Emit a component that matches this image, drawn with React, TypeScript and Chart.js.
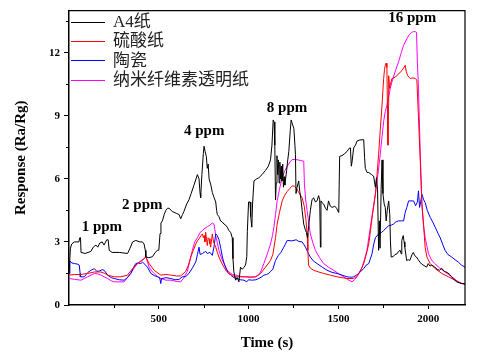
import React, { useEffect, useRef } from "react";
import { Chart, registerables } from "chart.js";

Chart.register(...registerables);

// ---------------- data ----------------
const seriesLabels = ["A4纸", "硫酸纸", "陶瓷", "纳米纤维素透明纸"];

const a4Time = [0, 8, 15, 30, 55, 60, 64, 67, 90, 122, 135, 150, 160, 172, 185, 195, 210, 218, 224, 240, 280, 326, 340, 354, 372, 395, 409, 418, 425, 428, 445, 465, 480, 493, 500, 507, 512, 520, 530, 539, 548, 557, 575, 600, 613, 622, 632, 640, 655, 668, 680, 696, 715, 724, 730, 733, 740, 748, 752, 758, 765, 770, 775, 780, 790, 798, 808, 817, 822, 826, 835, 844, 853, 863, 872, 881, 890, 900, 909, 913, 918, 928, 937, 946, 955, 965, 975, 983, 990, 993, 1000, 1008, 1012, 1018, 1022, 1030, 1045, 1057, 1075, 1094, 1110, 1122, 1130, 1137, 1142, 1146, 1150, 1154, 1158, 1162, 1166, 1170, 1174, 1178, 1182, 1186, 1190, 1194, 1198, 1202, 1206, 1212, 1218, 1224, 1232, 1237, 1244, 1252, 1258, 1261, 1264, 1270, 1279, 1285, 1292, 1298, 1307, 1315, 1322, 1328, 1335, 1344, 1353, 1362, 1372, 1381, 1390, 1396, 1400, 1403, 1410, 1418, 1428, 1437, 1445, 1455, 1465, 1480, 1490, 1502, 1507, 1520, 1535, 1548, 1560, 1567, 1572, 1576, 1585, 1595, 1604, 1620, 1641, 1646, 1650, 1660, 1669, 1685, 1696, 1706, 1712, 1718, 1724, 1728, 1732, 1738, 1743, 1748, 1755, 1761, 1766, 1772, 1780, 1786, 1790, 1794, 1805, 1815, 1826, 1835, 1844, 1850, 1853, 1861, 1866, 1870, 1880, 1890, 1898, 1910, 1917, 1925, 1935, 1945, 1954, 1963, 1972, 1982, 1991, 2000, 2010, 2020, 2037, 2050, 2063, 2075, 2090, 2105, 2120, 2131, 2145, 2159, 2175, 2187, 2205];
const a4Resp = [1.5, 2.7, 2.9, 3.0, 3.0, 3.2, 3.2, 2.5, 2.45, 2.55, 2.75, 2.85, 2.75, 2.95, 3.0, 2.85, 3.1, 3.1, 2.6, 2.5, 2.5, 2.45, 2.7, 3.0, 3.07, 3.0, 3.0, 2.9, 2.6, 2.28, 2.25, 2.3, 2.5, 2.6, 2.6, 3.4, 3.9, 4.0, 4.3, 4.5, 4.6, 4.6, 4.45, 4.35, 4.3, 4.1, 4.3, 4.45, 4.8, 5.0, 5.3, 5.7, 6.2, 6.0, 5.3, 5.1, 6.2, 7.2, 7.55, 7.3, 7.05, 6.5, 6.7, 6.0, 5.7, 5.35, 5.1, 4.9, 4.5, 4.3, 4.2, 4.0, 3.95, 3.85, 3.8, 3.7, 3.55, 3.45, 3.2, 2.2, 1.57, 1.18, 1.3, 1.1, 1.8, 1.7, 1.8, 1.9, 2.3, 3.5, 4.9, 4.9, 4.2, 3.7, 4.8, 5.9, 6.0, 6.05, 6.2, 6.4, 6.6, 6.9, 7.6, 8.8, 8.7, 7.6, 5.0, 5.8, 7.1, 6.2, 6.9, 5.8, 6.8, 6.0, 6.6, 5.9, 6.7, 5.6, 6.1, 5.7, 6.0, 6.4, 6.9, 7.3, 8.3, 8.8, 8.6, 8.4, 7.6, 7.15, 5.3, 5.6, 5.9, 5.4, 5.0, 4.5, 3.85, 3.6, 3.45, 3.2, 3.8, 4.5, 5.0, 5.1, 4.9, 4.95, 5.2, 5.0, 2.75, 4.95, 4.85, 4.8, 4.6, 4.5, 4.95, 4.7, 4.64, 4.7, 4.6, 4.4, 7.07, 7.1, 7.2, 7.3, 7.45, 7.47, 6.6, 6.8, 7.47, 7.6, 7.8, 7.85, 7.86, 7.0, 6.5, 6.3, 6.3, 6.2, 6.13, 5.6, 6.05, 5.5, 2.6, 4.0, 2.7, 5.5, 6.9, 5.3, 4.8, 4.64, 4.0, 4.5, 4.95, 4.3, 3.0, 2.28, 2.3, 2.4, 2.43, 2.55, 2.6, 2.43, 3.07, 3.3, 3.0, 2.75, 2.12, 2.15, 2.12, 2.4, 2.5, 2.35, 2.28, 2.15, 2.04, 1.95, 1.9, 1.85, 1.8, 1.97, 1.85, 1.9, 1.8, 1.7, 1.65, 1.75, 1.6, 1.55, 1.45, 1.34, 1.2, 1.1, 1.05, 1.02, 1.0];

const sulfTime = [0, 30, 67, 85, 104, 141, 178, 200, 215, 252, 289, 326, 354, 381, 409, 428, 446, 474, 511, 540, 567, 600, 622, 650, 665, 678, 692, 706, 715, 724, 735, 743, 748, 752, 757, 761, 766, 770, 775, 780, 785, 789, 794, 798, 805, 817, 826, 835, 850, 863, 877, 891, 910, 928, 955, 983, 1010, 1039, 1055, 1067, 1080, 1094, 1108, 1122, 1135, 1150, 1159, 1172, 1187, 1200, 1215, 1230, 1243, 1255, 1261, 1270, 1279, 1290, 1298, 1310, 1320, 1326, 1330, 1334, 1344, 1363, 1390, 1418, 1455, 1493, 1520, 1548, 1585, 1600, 1613, 1630, 1641, 1655, 1669, 1678, 1690, 1706, 1715, 1724, 1733, 1743, 1752, 1757, 1761, 1766, 1770, 1773, 1776, 1778, 1780, 1785, 1790, 1798, 1808, 1817, 1826, 1835, 1844, 1853, 1862, 1872, 1878, 1886, 1900, 1915, 1928, 1937, 1946, 1956, 1965, 1974, 1983, 1993, 2011, 2039, 2076, 2113, 2150, 2187, 2205];
const sulfResp = [1.42, 1.45, 1.45, 1.48, 1.5, 1.57, 1.57, 1.5, 1.42, 1.34, 1.34, 1.42, 1.73, 1.97, 2.12, 2.28, 1.97, 1.65, 1.42, 1.45, 1.42, 1.38, 1.38, 1.6, 1.9, 2.28, 2.6, 2.9, 3.05, 3.15, 3.3, 3.38, 3.2, 3.3, 3.0, 3.46, 3.1, 2.83, 3.2, 3.15, 2.9, 2.75, 3.1, 3.38, 3.0, 2.75, 2.5, 2.28, 2.0, 1.8, 1.6, 1.5, 1.4, 1.34, 1.34, 1.34, 1.32, 1.34, 1.42, 1.5, 1.65, 1.8, 1.95, 2.12, 2.4, 3.2, 3.85, 4.4, 4.95, 5.2, 5.4, 5.55, 5.66, 5.65, 5.6, 5.5, 5.35, 5.2, 5.1, 4.7, 4.0, 3.4, 2.6, 1.9, 1.75, 1.65, 1.57, 1.5, 1.42, 1.34, 1.3, 1.26, 1.26, 1.35, 1.5, 1.75, 1.97, 2.4, 2.9, 3.5, 4.3, 5.27, 6.2, 7.15, 8.3, 9.5, 10.77, 11.2, 11.4, 11.5, 11.3, 9.5, 7.6, 9.5, 10.9, 10.3, 10.5, 10.77, 10.8, 10.85, 10.9, 11.0, 11.05, 11.16, 11.25, 11.4, 11.1, 10.9, 10.77, 10.8, 10.77, 10.7, 8.9, 6.84, 4.8, 3.85, 2.75, 2.28, 1.97, 1.73, 1.5, 1.34, 1.18, 1.02, 1.0];

const ceramicTime = [0, 5, 15, 30, 45, 57, 62, 63, 85, 105, 122, 141, 155, 170, 185, 196, 215, 235, 252, 280, 307, 325, 344, 360, 372, 385, 400, 410, 420, 437, 456, 475, 493, 505, 511, 515, 540, 567, 590, 613, 631, 650, 668, 690, 706, 715, 724, 730, 743, 761, 770, 785, 798, 808, 817, 826, 835, 845, 854, 863, 872, 885, 900, 918, 937, 955, 974, 990, 1000, 1020, 1040, 1057, 1075, 1085, 1100, 1113, 1122, 1135, 1150, 1165, 1180, 1196, 1205, 1215, 1240, 1265, 1280, 1298, 1310, 1317, 1330, 1344, 1360, 1381, 1410, 1437, 1465, 1493, 1520, 1548, 1570, 1585, 1600, 1613, 1625, 1641, 1655, 1669, 1687, 1697, 1706, 1724, 1740, 1752, 1765, 1780, 1795, 1807, 1820, 1835, 1850, 1863, 1872, 1881, 1891, 1905, 1919, 1930, 1940, 1946, 1952, 1958, 1965, 1975, 1983, 1995, 2011, 2025, 2039, 2055, 2067, 2080, 2094, 2110, 2131, 2150, 2168, 2185, 2205];
const ceramicResp = [1.5, 2.1, 2.0, 1.97, 1.95, 1.9, 1.5, 1.34, 1.34, 1.55, 1.65, 1.73, 1.6, 1.62, 1.68, 1.65, 1.42, 1.3, 1.26, 1.2, 1.18, 1.3, 1.5, 1.8, 1.97, 2.0, 1.97, 2.04, 1.95, 1.8, 1.5, 1.4, 1.34, 1.3, 1.02, 1.25, 1.3, 1.26, 1.2, 1.22, 1.34, 1.35, 1.5, 1.8, 2.05, 2.4, 2.75, 2.4, 2.45, 2.55, 2.45, 2.5, 2.36, 2.8, 3.38, 3.3, 3.1, 2.7, 2.28, 2.0, 1.8, 1.55, 1.42, 1.3, 1.26, 1.2, 1.18, 1.1, 1.2, 1.18, 1.2, 1.26, 1.35, 1.42, 1.45, 1.5, 1.6, 1.7, 2.12, 2.35, 2.5, 2.75, 2.9, 3.07, 3.05, 3.1, 3.02, 3.0, 2.85, 2.75, 2.5, 2.28, 2.1, 1.97, 1.8, 1.65, 1.55, 1.5, 1.42, 1.34, 1.32, 1.34, 1.42, 1.5, 1.6, 1.73, 1.9, 1.97, 2.43, 2.9, 3.2, 3.38, 3.45, 3.54, 3.65, 3.77, 3.8, 3.85, 3.95, 4.0, 4.0, 4.0, 4.4, 4.64, 4.95, 4.95, 4.95, 4.72, 4.9, 5.43, 4.64, 4.9, 5.27, 5.0, 4.87, 4.5, 4.17, 3.95, 3.7, 3.4, 3.2, 2.9, 2.6, 2.4, 2.28, 2.15, 2.04, 1.9, 1.8];

const cnfTime = [0, 30, 67, 85, 104, 141, 160, 178, 200, 215, 235, 252, 280, 307, 325, 344, 362, 381, 400, 415, 428, 437, 446, 460, 474, 493, 511, 540, 567, 600, 622, 640, 659, 673, 687, 700, 715, 730, 743, 757, 770, 785, 798, 807, 812, 817, 826, 835, 850, 863, 877, 891, 910, 928, 955, 983, 1010, 1039, 1055, 1067, 1085, 1104, 1122, 1133, 1141, 1150, 1159, 1172, 1187, 1200, 1215, 1230, 1243, 1261, 1275, 1289, 1307, 1311, 1318, 1326, 1335, 1344, 1358, 1372, 1395, 1418, 1445, 1474, 1500, 1530, 1555, 1576, 1590, 1604, 1618, 1632, 1645, 1659, 1678, 1692, 1706, 1720, 1733, 1743, 1752, 1761, 1770, 1780, 1789, 1798, 1807, 1820, 1835, 1850, 1863, 1872, 1881, 1895, 1909, 1918, 1928, 1935, 1940, 1946, 1956, 1965, 1974, 1983, 2002, 2020, 2040, 2057, 2076, 2094, 2113, 2131, 2150, 2168, 2187, 2205];
const cnfResp = [1.26, 1.22, 1.18, 1.26, 1.34, 1.5, 1.48, 1.42, 1.32, 1.26, 1.15, 1.1, 1.1, 1.1, 1.3, 1.5, 1.75, 1.97, 2.1, 2.2, 2.28, 2.05, 1.8, 1.62, 1.5, 1.35, 1.26, 1.18, 1.18, 1.12, 1.1, 1.3, 1.6, 2.1, 2.6, 3.0, 3.2, 3.45, 3.54, 3.65, 3.72, 3.8, 3.9, 3.85, 3.6, 3.3, 2.95, 2.6, 2.2, 1.97, 1.7, 1.57, 1.45, 1.42, 1.36, 1.34, 1.33, 1.34, 1.45, 1.57, 1.97, 2.43, 2.9, 3.3, 3.7, 4.3, 4.95, 5.5, 6.05, 6.35, 6.6, 6.8, 6.92, 6.92, 6.9, 6.87, 6.84, 5.74, 5.0, 4.48, 3.9, 3.38, 2.95, 2.6, 2.25, 1.97, 1.8, 1.65, 1.5, 1.34, 1.2, 1.1, 1.2, 1.34, 1.55, 1.8, 2.15, 2.6, 3.7, 4.5, 5.27, 6.2, 7.15, 8.0, 8.73, 9.2, 9.5, 9.9, 10.3, 10.6, 10.85, 11.2, 11.56, 12.0, 12.35, 12.5, 12.66, 12.85, 12.97, 13.0, 13.0, 12.97, 11.5, 10.3, 7.15, 4.8, 3.8, 3.2, 2.43, 2.12, 1.95, 1.8, 1.68, 1.57, 1.45, 1.34, 1.22, 1.1, 1.03, 1.0];

const xMajorTicks = [500, 1000, 1500, 2000];
const xMinorTicks = [250, 750, 1250, 1750];
const yMajorTicks = [0, 3, 6, 9, 12];
const yMinorTicks = [1.5, 4.5, 7.5, 10.5, 13.5];

const ppmLabels = ["1 ppm", "2 ppm", "4 ppm", "8 ppm", "16 ppm"];
const ppmLabelTime = [183, 408, 753, 1214, 1911];
const ppmLabelResp = [3.68, 4.76, 8.25, 9.34, 13.63];

// ---------------- styles ----------------
const colors = ["#000000", "#ff0000", "#0000ff", "#ff00ff"];
const SERIF = '"Liberation Serif", "Times New Roman", serif';
const LEGEND_FONT = '17px "Liberation Serif", "Noto Sans CJK SC", serif';

const toPoints = (t: number[], v: number[]) => t.map((x, i) => ({ x, y: v[i] }));

const decorPlugin = {
  id: "decor",
  afterDraw(chart: any) {
    const { ctx, chartArea, scales } = chart;
    const xs = scales.x;
    const ys = scales.y;
    ctx.save();
    // frame top/right
    ctx.strokeStyle = "#000";
    ctx.lineWidth = 1.2;
    ctx.beginPath();
    ctx.moveTo(chartArea.left, chartArea.top);
    ctx.lineTo(chartArea.right, chartArea.top);
    ctx.lineTo(chartArea.right, chartArea.bottom);
    ctx.stroke();
    // minor ticks
    ctx.lineWidth = 1;
    ctx.beginPath();
    xMinorTicks.forEach((v) => {
      const px = Math.round(xs.getPixelForValue(v)) + 0.5;
      ctx.moveTo(px, chartArea.bottom);
      ctx.lineTo(px, chartArea.bottom + 3);
    });
    yMinorTicks.forEach((v) => {
      const py = Math.round(ys.getPixelForValue(v)) + 0.5;
      ctx.moveTo(chartArea.left, py);
      ctx.lineTo(chartArea.left - 3, py);
    });
    ctx.stroke();
    // ppm labels
    ctx.fillStyle = "#000";
    ctx.font = `bold 15px ${SERIF}`;
    ctx.textAlign = "center";
    ctx.textBaseline = "middle";
    ppmLabels.forEach((txt, i) => {
      ctx.fillText(txt, xs.getPixelForValue(ppmLabelTime[i]), ys.getPixelForValue(ppmLabelResp[i]));
    });
    // legend
    ctx.font = LEGEND_FONT;
    ctx.textAlign = "left";
    chart.data.datasets.forEach((ds: any, i: number) => {
      const y = chartArea.top + 11 + i * 19.3;
      ctx.strokeStyle = ds.borderColor;
      ctx.lineWidth = 1;
      ctx.beginPath();
      ctx.moveTo(chartArea.left + 2, Math.round(y) + 0.5);
      ctx.lineTo(chartArea.left + 36, Math.round(y) + 0.5);
      ctx.stroke();
      ctx.fillStyle = "#222";
      ctx.fillText(ds.label, chartArea.left + 44, y + 1);
    });
    ctx.restore();
  },
};

export default function App() {
  const canvasRef = useRef<HTMLCanvasElement | null>(null);

  useEffect(() => {
    if (!canvasRef.current) return;
    const datasets = [
      toPoints(a4Time, a4Resp),
      toPoints(sulfTime, sulfResp),
      toPoints(ceramicTime, ceramicResp),
      toPoints(cnfTime, cnfResp),
    ].map((d, i) => ({
      label: seriesLabels[i],
      data: d,
      borderColor: colors[i],
      backgroundColor: colors[i],
      borderWidth: 1,
      pointRadius: 0,
      tension: 0,
      fill: false,
    }));

    const tickFont = { family: SERIF, size: 11, weight: "bold" as const };
    const titleFont = { family: SERIF, size: 15, weight: "bold" as const };
    const plainLabel = (v: any) => String(v);

    const chart = new Chart(canvasRef.current, {
      type: "line",
      data: { datasets },
      options: {
        responsive: false,
        animation: false,
        layout: { padding: { left: 0, right: 13, top: 7, bottom: 0 } },
        plugins: { legend: { display: false }, tooltip: { enabled: false } },
        scales: {
          x: {
            type: "linear",
            min: 0,
            max: 2205,
            afterBuildTicks: (s: any) => {
              s.ticks = xMajorTicks.map((v) => ({ value: v }));
            },
            afterFit: (s: any) => {
              s.height = 51;
            },
            ticks: { font: tickFont, color: "#000", padding: 4, maxRotation: 0, autoSkip: false, callback: plainLabel },
            grid: { drawOnChartArea: false, drawTicks: true, tickLength: 4, tickColor: "#000", tickWidth: 1 },
            border: { display: true, color: "#000", width: 1.5 },
            title: { display: true, text: "Time (s)", font: titleFont, color: "#000", padding: { top: 0, bottom: 4 } },
          },
          y: {
            type: "linear",
            min: 0,
            max: 14,
            afterBuildTicks: (s: any) => {
              s.ticks = yMajorTicks.map((v) => ({ value: v }));
            },
            afterFit: (s: any) => {
              s.width = 69;
            },
            ticks: { font: tickFont, color: "#000", padding: 4, autoSkip: false, callback: plainLabel },
            grid: { drawOnChartArea: false, drawTicks: true, tickLength: 5, tickColor: "#000", tickWidth: 1 },
            border: { display: true, color: "#000", width: 1.5 },
            title: { display: true, text: "Response (Ra/Rg)", font: titleFont, color: "#000", padding: { top: 12, bottom: 0 } },
          },
        },
      },
      plugins: [decorPlugin],
    });
    return () => chart.destroy();
  }, []);

  return (
    <div style={{ position: "fixed", left: 0, top: 0, width: 478, height: 356, background: "#fff" }}>
      <canvas ref={canvasRef} width={478} height={356} style={{ display: "block" }} />
    </div>
  );
}
